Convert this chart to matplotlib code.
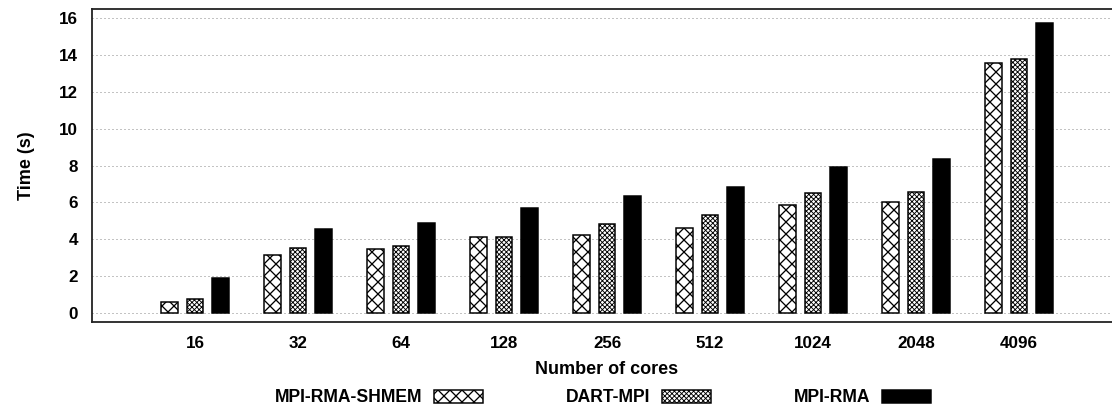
import numpy as np
import matplotlib
matplotlib.use("Agg")
import matplotlib.pyplot as plt

plt.rcParams['font.family'] = ['Liberation Sans', 'DejaVu Sans']
plt.rcParams['font.weight'] = 'bold'
plt.rcParams['axes.labelweight'] = 'bold'

# run times (s) per core count
cores = ["16", "32", "64", "128", "256", "512", "1024", "2048", "4096"]
shmem = [0.57, 3.13, 3.44, 4.14, 4.22, 4.62, 5.87, 6.00, 13.56]
dart = [0.77, 3.51, 3.62, 4.14, 4.81, 5.29, 6.52, 6.58, 13.76]
rma = [1.91, 4.55, 4.88, 5.71, 6.35, 6.84, 7.93, 8.33, 15.76]

series = [
    ("MPI-RMA-SHMEM", shmem, "white", "xx", 1.3),
    ("DART-MPI", dart, "white", "xxxxx", 0.9),
    ("MPI-RMA", rma, "black", None, 1.0),
]

# dpi 72 so one point == one pixel
W, H = 1112, 406
fig = plt.figure(figsize=(W / 72, H / 72), dpi=72)
ax = fig.add_axes([92 / W, (H - 322) / H, (1122 - 92) / W, (322 - 9) / H])

x = np.arange(len(cores))
step = 0.248
width = 0.16
for k, (name, vals, fc, hatch, hlw) in enumerate(series):
    bars = ax.bar(x + (k - 1) * step, vals, width, color=fc, edgecolor="black",
                  linewidth=1.5, hatch=hatch, label=name, zorder=3)
    for b in bars:
        b.set_hatch_linewidth(hlw)

ax.set_xlim(-1, 9)
ax.set_ylim(-0.5, 16.5)
ax.set_xticks(x)
ax.set_xticklabels(cores)
ax.set_yticks(range(0, 17, 2))
ax.tick_params(length=0, labelsize=17, pad=14)
ax.yaxis.grid(True, linestyle=(0, (1, 3)), color="#888888", linewidth=1)
ax.set_axisbelow(True)

for s in ["left", "bottom", "top"]:
    ax.spines[s].set_linewidth(1.8)
    ax.spines[s].set_color("#222222")
ax.spines["right"].set_visible(False)

ax.set_ylabel("Time (s)", fontsize=18, labelpad=24)
ax.set_xlabel("Number of cores", fontsize=18, labelpad=10)

leg = fig.legend(loc="center", bbox_to_anchor=(603 / W, 8 / H), ncol=3,
                 frameon=False, fontsize=17.5, markerfirst=False,
                 handlelength=2.8, handleheight=0.72, handletextpad=0.7,
                 columnspacing=4.7, borderaxespad=0, borderpad=0)
for h, s in zip(leg.legend_handles, series):
    h.set_hatch_linewidth(s[4])

fig.savefig("out.png", dpi=72)
